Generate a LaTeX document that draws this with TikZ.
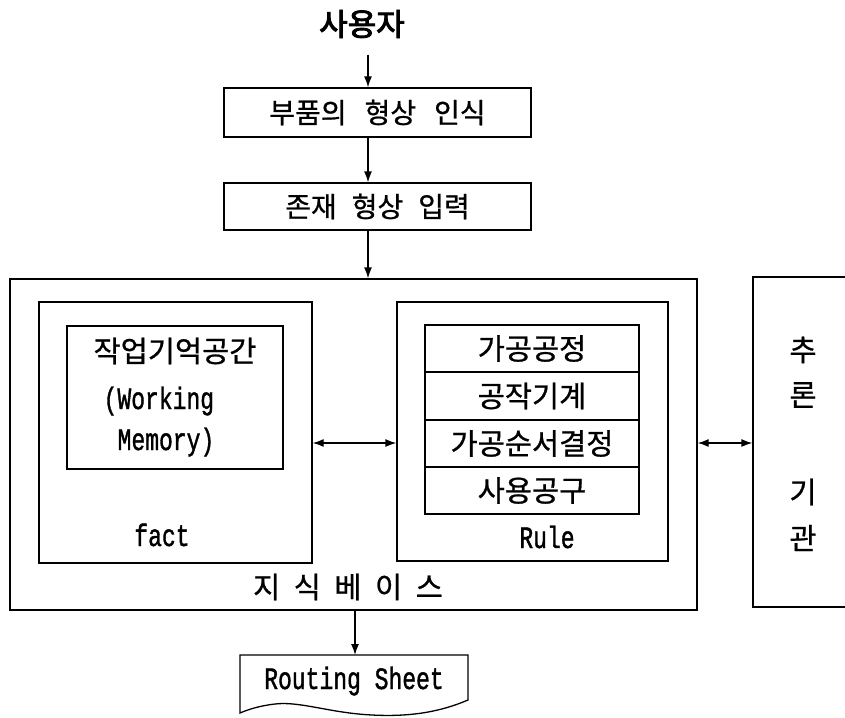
\documentclass[tikz,border=0pt]{standalone}
\usepackage{fontspec}
\setmainfont{Noto Sans CJK KR}[FakeBold=0.8]
\newfontfamily\krbold{Noto Sans CJK KR}[FakeBold=3]
\newfontfamily\monofam{Liberation Mono}[FakeBold=1.5]
\usetikzlibrary{arrows.meta}
\newcommand\wgap{\hspace{18pt}}
\newcommand\ugap{\hspace{15pt}}
\newcommand\lgap{\hspace{13.5pt}}
\newcommand\mt[1]{\scalebox{1}[1.35]{#1}}
\begin{document}
\begin{tikzpicture}[x=1pt,y=-1pt,line width=1.3pt,
  box/.style={draw,inner sep=0pt,anchor=center},
  arr/.style={-{Latex[length=11pt,width=8pt]}},
  darr/.style={{Latex[length=11pt,width=8pt]}-{Latex[length=11pt,width=8pt]}},
  kr/.style={font=\fontsize{29.5}{32}\selectfont},
  krs/.style={font=\fontsize{28}{31}\selectfont},
  mn/.style={font=\monofam\fontsize{23}{26}\selectfont,inner sep=0pt}]
\clip (0,0) rectangle (845,717);
\fill[white] (0,0) rectangle (845,717);
\coordinate (ax) at (368,0);
\coordinate (bx) at (355,0);
\coordinate (dy) at (0,443);
% top
\node[font=\krbold\fontsize{31}{34}\selectfont,inner sep=0pt] (user) at (362,24) {사용자};
\node[box,krs,minimum width=307pt,minimum height=49pt] (b1) at (377.5,112.5) {부품의\wgap 형상\wgap 인식};
\node[box,krs,minimum width=307pt,minimum height=47pt] (b2) at (377.5,206.5) {존재\ugap 형상\ugap 입력};
% knowledge base
\node[box,minimum width=687pt,minimum height=331pt] (kb) at (353.5,444.5) {};
\node[box,minimum width=273pt,minimum height=261pt] (fact) at (175.5,432.5) {};
\node[box,minimum width=216pt,minimum height=143pt] (wm) at (175,397.5) {};
\node[kr,inner sep=0pt] (wmt) at (175,351) {작업기억공간};
\node[mn,anchor=base west] (wk) at (103,409) {\mt{(Working}};
\node[mn,anchor=base west] (mem) at (117,450) {\mt{Memory)}};
\node[mn,anchor=base] (factt) at (162,546) {\mt{fact}};
\node[box,minimum width=271pt,minimum height=259pt] (rule) at (532.5,431.5) {};
\node[box,kr,minimum width=214pt,minimum height=47pt] (r1) at (532,348.5) {가공공정};
\node[box,kr,minimum width=214pt,minimum height=48pt] (r2) at (532,396) {공작기계};
\node[box,kr,minimum width=214pt,minimum height=47pt] (r3) at (532,443.5) {가공순서결정};
\node[box,kr,minimum width=214pt,minimum height=47pt] (r4) at (532,490.5) {사용공구};
\node[mn,anchor=base] (rulet) at (547,548) {\mt{Rule}};
\node[kr,inner sep=0pt] (kbt) at (348,587) {지\lgap 식\lgap 베\lgap 이\lgap 스};
% inference engine
\node[box,minimum width=140pt,minimum height=330pt] (inf) at (823,442) {};
\node[kr,inner sep=0pt] (i1) at (803,350) {추};
\node[kr,inner sep=0pt] (i2) at (803,395) {론};
\node[kr,inner sep=0pt] (i3) at (803,492) {기};
\node[kr,inner sep=0pt] (i4) at (803,538) {관};
% routing sheet
\node[mn,anchor=base] (rs) at (354,689) {\mt{Routing Sheet}};
\coordinate (rsnw) at (240,655);
\coordinate (rsne) at (468,655);
\draw (rsnw) -- (rsne) -- (468,700)
  .. controls (440,712) and (410,717) .. (372,715)
  .. controls (330,713) and (300,701) .. (275,704)
  .. controls (258,706) and (247,710) .. (240,713) -- cycle;
% connectors
\draw[arr,shorten <=16pt] (user.south -| ax) -- (b1.north -| ax);
\draw[arr] (b1.south -| ax) -- (b2.north -| ax);
\draw[arr] (b2.south -| ax) -- (kb.north -| ax);
\draw[darr] (fact.east |- dy) -- (rule.west |- dy);
\draw[darr] (kb.east |- dy) -- (inf.west |- dy);
\draw[arr] (kb.south -| bx) -- (rsnw -| bx);
\end{tikzpicture}
\end{document}
